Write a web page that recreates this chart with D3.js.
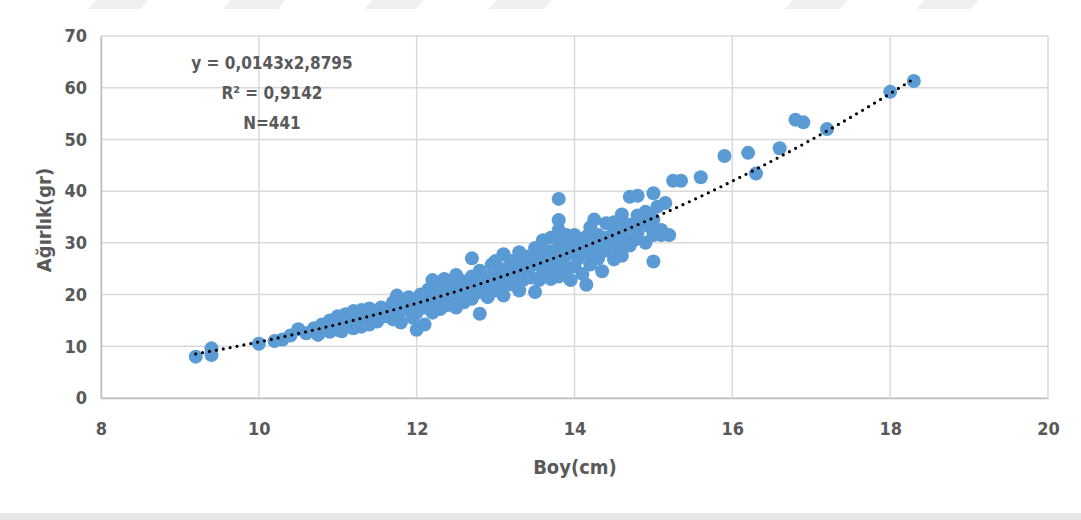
<!DOCTYPE html>
<html>
<head>
<meta charset="utf-8">
<script src="https://cdn.jsdelivr.net/npm/d3@7"></script>
<style>
  body { margin: 0; background: #fff; }
  #chart { width: 1081px; height: 520px; }
  text { font-family: 'Liberation Sans Narrow', 'DejaVu Sans Condensed', 'Open Sans', sans-serif; fill: #595959; font-weight: bold; }
</style>
</head>
<body>
<div id="chart"></div>
<script>
// Boy (cm) and Ağırlık (gr)
const boy = [
  9.2, 9.4, 9.4, 10.0, 10.2, 10.3, 10.4, 10.5, 10.6, 10.7, 10.75, 10.8, 10.8, 10.9, 10.9, 10.9,
  11.0, 11.0, 11.0, 11.05, 11.1, 11.1, 11.15, 11.2, 11.2, 11.25, 11.3, 11.3, 11.3, 11.35, 11.4, 11.4,
  11.45, 11.5, 11.5, 11.55, 11.6, 11.6, 11.65, 11.7, 11.7, 11.75, 11.8, 11.8, 11.85, 11.9, 11.9, 11.95,
  12.0, 12.0, 12.0, 12.05, 12.1, 12.1, 12.1, 12.15, 12.2, 12.2, 12.2, 12.25, 12.3, 12.3, 12.3, 12.35,
  12.4, 12.4, 12.45, 12.5, 12.5, 12.5, 12.55, 12.6, 12.6, 12.65, 12.7, 12.7, 12.7, 12.75, 12.8, 12.8,
  12.8, 12.85, 12.9, 12.9, 12.95, 13.0, 13.0, 13.0, 13.05, 13.1, 13.1, 13.1, 13.15, 13.2, 13.2, 13.2,
  13.25, 13.3, 13.3, 13.3, 13.35, 13.4, 13.4, 13.45, 13.5, 13.5, 13.5, 13.55, 13.6, 13.6, 13.6, 13.65,
  13.7, 13.7, 13.7, 13.75, 13.8, 13.8, 13.8, 13.8, 13.8, 13.8, 13.85, 13.9, 13.9, 13.95, 14.0, 14.0,
  14.0, 14.05, 14.1, 14.1, 14.15, 14.15, 14.2, 14.2, 14.25, 14.25, 14.3, 14.3, 14.35, 14.4, 14.4, 14.45,
  14.5, 14.5, 14.5, 14.55, 14.6, 14.6, 14.65, 14.7, 14.7, 14.7, 14.75, 14.8, 14.8, 14.85, 14.9, 14.9,
  14.95, 15.0, 15.0, 15.0, 15.0, 15.05, 15.1, 15.1, 15.15, 15.2, 15.25, 15.35, 15.6, 15.9, 16.2, 16.3,
  16.6, 16.8, 16.9, 17.2, 18.0, 18.3,
  // extra points inside the dense band
  11.1, 11.4, 11.7, 11.9, 12.1, 12.3, 12.45, 12.6, 12.75, 12.9, 13.05, 13.2, 13.35, 13.45, 13.6,
  13.7, 13.85, 13.95, 14.05, 14.15, 14.3, 14.4, 14.55, 14.65, 14.8, 14.95, 13.4, 13.9, 14.2, 14.6,
  12.2, 12.55, 12.95, 13.25, 13.55
];
const agirlik = [
  8.0, 8.3, 9.6, 10.5, 11.0, 11.3, 12.1, 13.3, 12.5, 13.5, 12.2, 13.0, 14.2, 12.8, 13.8, 15.0,
  13.2, 14.5, 15.8, 12.9, 14.0, 16.2, 15.0, 13.5, 16.8, 14.6, 13.8, 15.6, 17.0, 16.2, 14.2, 17.3,
  15.3, 16.5, 14.8, 17.5, 15.8, 17.0, 16.3, 15.2, 18.5, 19.8, 16.8, 14.6, 18.0, 17.2, 19.5, 15.5,
  13.2, 16.5, 18.6, 20.0, 14.2, 17.5, 19.4, 21.0, 16.5, 18.3, 22.8, 20.2, 17.2, 19.3, 21.8, 23.0,
  18.0, 20.6, 22.3, 17.5, 19.8, 23.8, 21.2, 18.5, 22.5, 20.3, 19.2, 23.5, 27.0, 21.5, 16.3, 20.5,
  24.6, 22.8, 19.5, 23.5, 25.8, 20.8, 22.5, 26.5, 24.3, 19.8, 21.8, 27.8, 25.2, 22.0, 24.0, 26.5,
  23.2, 20.8, 25.5, 28.2, 22.8, 24.5, 27.3, 23.3, 20.5, 25.8, 29.0, 22.8, 24.2, 27.0, 30.5, 26.0,
  23.0, 28.3, 31.0, 25.0, 38.5, 34.4, 32.5, 29.0, 26.5, 23.5, 30.5, 24.8, 27.8, 22.8, 25.5, 29.5,
  31.5, 27.0, 24.0, 30.5, 21.9, 28.2, 25.8, 33.0, 34.5, 29.8, 27.0, 31.5, 24.5, 28.5, 33.8, 30.3,
  26.8, 32.0, 34.0, 29.0, 27.5, 35.5, 31.0, 29.5, 33.5, 38.9, 30.5, 39.1, 32.0, 34.0, 30.0, 36.0,
  33.2, 26.4, 31.5, 34.5, 39.6, 37.0, 32.5, 31.5, 37.7, 31.5, 42.0, 42.0, 42.7, 46.8, 47.4, 43.4,
  48.3, 53.8, 53.3, 52.0, 59.2, 61.3,
  15.2, 15.8, 17.0, 18.2, 18.4, 20.0, 20.8, 21.0, 22.6, 22.0, 23.0, 24.8, 25.8, 26.2, 28.8,
  26.8, 26.8, 29.8, 28.5, 31.2, 29.2, 31.0, 31.5, 33.2, 35.3, 35.0, 26.0, 31.5, 27.8, 30.0,
  20.2, 22.8, 21.5, 21.8, 26.8
];
const xTicks = [8, 10, 12, 14, 16, 18, 20];
const yTicks = [0, 10, 20, 30, 40, 50, 60, 70];
// power trendline shown on the chart: y = 0,0143 x^2,8795
const fitA = 0.0143, fitB = 2.8795;
const annotation = ["y = 0,0143x2,8795", "R² = 0,9142", "N=441"];

const W = 1081, H = 520;
const margin = { top: 36, right: 33, bottom: 122, left: 101 },
  width = W - margin.left - margin.right,
  height = H - margin.top - margin.bottom;

const root = d3.select("#chart").append("svg")
  .attr("width", W).attr("height", H);

// faint watermark band at the top and grey strip at the bottom
const wm = [[96, 148], [231, 286], [372, 424], [497, 552], [793, 848], [924, 979]];
root.selectAll(".wm").data(wm).join("path")
  .attr("d", d => `M${d[0]},0 L${d[1]},0 L${d[1] - 8},9 L${d[0] - 8},9 Z`)
  .attr("fill", "#f0f0f0");
root.append("rect").attr("x", 0).attr("y", 513).attr("width", W).attr("height", 7).attr("fill", "#e6e6e6");

const svg = root.append("g").attr("transform", `translate(${margin.left},${margin.top})`);

const x = d3.scaleLinear().domain([8, 20]).range([0, width]);
const y = d3.scaleLinear().domain([0, 70]).range([height, 0]);

// grid
svg.append("g").selectAll("line").data(yTicks).join("line")
  .attr("x1", 0).attr("x2", width)
  .attr("y1", d => y(d)).attr("y2", d => y(d))
  .attr("stroke", "#d9d9d9").attr("stroke-width", 1.5);
svg.append("g").selectAll("line").data(xTicks).join("line")
  .attr("y1", 0).attr("y2", height)
  .attr("x1", d => x(d)).attr("x2", d => x(d))
  .attr("stroke", "#d9d9d9").attr("stroke-width", 1.5);

// axes
const xAxis = svg.append("g").attr("transform", `translate(0,${height})`)
  .call(d3.axisBottom(x).tickValues(xTicks).tickSize(0).tickPadding(24));
const yAxis = svg.append("g")
  .call(d3.axisLeft(y).tickValues(yTicks).tickSize(0).tickPadding(14));
[xAxis, yAxis].forEach(a => {
  a.select(".domain").attr("stroke", "#bfbfbf").attr("stroke-width", 1.5);
  a.selectAll("text").style("font-size", "18px").attr("fill", "#595959");
});

// points
svg.append("g").selectAll("circle")
  .data(boy.map((b, i) => ({ b: b, a: agirlik[i] })))
  .join("circle")
  .attr("cx", d => x(d.b))
  .attr("cy", d => y(d.a))
  .attr("r", 7)
  .attr("fill", "#5b9bd5");

// trendline
const fit = d3.range(9.2, 18.3 + 0.001, 0.05).map(v => [v, fitA * Math.pow(v, fitB)]);
svg.append("path")
  .datum(fit)
  .attr("d", d3.line().x(d => x(d[0])).y(d => y(d[1])))
  .attr("fill", "none")
  .attr("stroke", "#000")
  .attr("stroke-width", 3.2)
  .attr("stroke-linecap", "round")
  .attr("stroke-dasharray", "0 7");

// annotation
svg.append("g").selectAll("text").data(annotation).join("text")
  .attr("x", 272 - margin.left)
  .attr("y", (d, i) => 69 - margin.top + i * 30)
  .attr("text-anchor", "middle")
  .style("font-size", "17px")
  .attr("fill", "#404040")
  .text(d => d);

// axis titles
root.append("text")
  .attr("x", 575).attr("y", 474)
  .attr("text-anchor", "middle")
  .style("font-size", "20px")
  .text("Boy(cm)");
root.append("text")
  .attr("transform", "translate(51,220) rotate(-90)")
  .attr("text-anchor", "middle")
  .style("font-size", "20px")
  .text("Ağırlık(gr)");
</script>
</body>
</html>
